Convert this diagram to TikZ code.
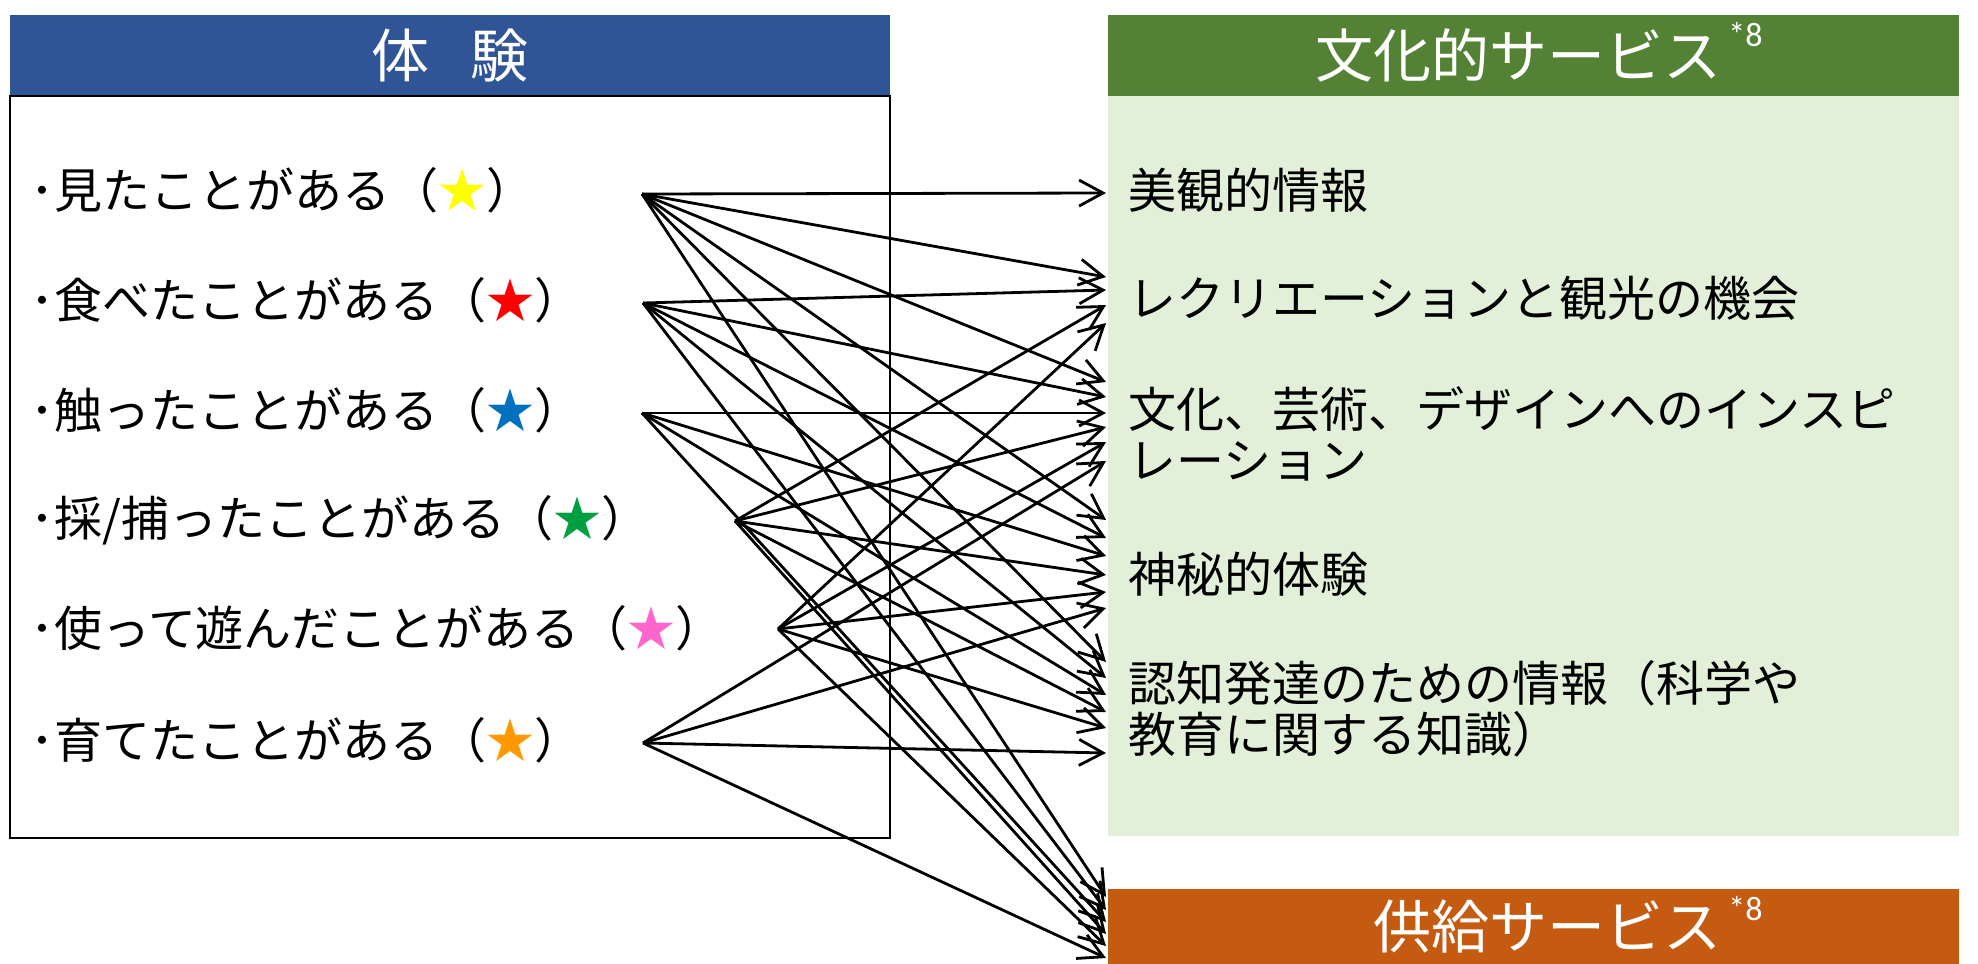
\documentclass[tikz,border=0pt]{standalone}
\usepackage{fontspec}
\setmainfont{Noto Sans CJK JP}
\newfontfamily\notefont{Carlito}
\usepackage{tikz}
\usetikzlibrary{arrows.meta}

\definecolor{expblue}{HTML}{2F5597}
\definecolor{culgreen}{HTML}{548235}
\definecolor{culpanel}{HTML}{E2F0D9}
\definecolor{suporange}{HTML}{C55A11}
\definecolor{staryellow}{HTML}{FFFF00}
\definecolor{starred}{HTML}{FF0000}
\definecolor{starblue}{HTML}{0070C0}
\definecolor{stargreen}{HTML}{00A040}
\definecolor{starpink}{HTML}{FF66CC}
\definecolor{starorange}{HTML}{FF9900}

\begin{document}
\begin{tikzpicture}[x=0.5pt,y=0.5pt,yscale=-1,
    item/.style={anchor=west,inner sep=0pt,font=\fontsize{24pt}{25.5pt}\selectfont},
    svc/.style={anchor=west,inner sep=0pt,align=left,font=\fontsize{24pt}{25.5pt}\selectfont},
    head/.style={text=white,inner sep=0pt,font=\fontsize{29pt}{30pt}\selectfont},
    note/.style={text=white,inner sep=0pt,anchor=north west,font=\notefont\fontsize{17pt}{18pt}\selectfont},
    link/.style={-{Straight Barb[length=12pt,width=13pt,line width=1.4pt]},line width=1.4pt}]
  \useasboundingbox (0,0) rectangle (1978,964);

  %Shape: Rectangle (experience header and box)
  \fill[expblue] (10,15) rectangle (890,96);
  \draw[line width=1.1pt,fill=white] (10,96) rectangle (890,838);
  %Shape: Rectangle (cultural services)
  \fill[culgreen] (1108,15) rectangle (1959,96);
  \fill[culpanel] (1108,96) rectangle (1959,836);
  %Shape: Rectangle (provisioning services)
  \fill[suporange] (1108,889) rectangle (1959,964);

  % Text Node
  \node[head] (hexp) at (450,55) {体\hspace{0.7em}験};
  % Text Node
  \node[head,anchor=east] (hcul) at (1722,55) {文化的サービス};
  \node[note] (ncul) at (1728,22) {*8};
  % Text Node
  \node[head,anchor=east] (hsup) at (1722,927) {供給サービス};
  \node[note] (nsup) at (1728,896) {*8};

  % Text Node (experiences)
  \node[item] (e1) at (30,190) {･見たことがある（\textcolor{staryellow}{★}）};
  \node[item] (e2) at (30,300) {･食べたことがある（\textcolor{starred}{★}）};
  \node[item] (e3) at (30,410) {･触ったことがある（\textcolor{starblue}{★}）};
  \node[item] (e4) at (30,520) {･採/捕ったことがある（\textcolor{stargreen}{★}）};
  \node[item] (e5) at (30,628) {･使って遊んだことがある（\textcolor{starpink}{★}）};
  \node[item] (e6) at (30,740) {･育てたことがある（\textcolor{starorange}{★}）};

  % Text Node (services)
  \node[svc] (v1) at (1128,190) {美観的情報};
  \node[svc] (v2) at (1128,298) {レクリエーションと観光の機会};
  \node[svc] (v3) at (1128,434) {文化、芸術、デザインへのインスピ\\レーション};
  \node[svc] (v4) at (1128,574) {神秘的体験};
  \node[svc] (v5) at (1128,709) {認知発達のための情報（科学や\\教育に関する知識）};

  %arrow start points
  \coordinate (s1) at (642,194);
  \coordinate (s2) at (643,303);
  \coordinate (s3) at (642,413);
  \coordinate (s4) at (735,521);
  \coordinate (s5) at (778,629);
  \coordinate (s6) at (643,743);

  %arrow tips
  \coordinate (aes) at (1106,193);
  \coordinate (rec1) at (1106,277);
  \coordinate (rec2) at (1106,290);
  \coordinate (rec4) at (1106,305);
  \coordinate (rec5) at (1106,323);
  \coordinate (ins1) at (1106,382);
  \coordinate (ins2) at (1106,397);
  \coordinate (ins3) at (1106,413);
  \coordinate (ins4) at (1106,427);
  \coordinate (ins5) at (1106,442);
  \coordinate (ins6) at (1106,461);
  \coordinate (mys1) at (1106,520);
  \coordinate (mys2) at (1106,538);
  \coordinate (mys3) at (1106,556);
  \coordinate (mys4) at (1106,575);
  \coordinate (mys5) at (1106,592);
  \coordinate (mys6) at (1106,608);
  \coordinate (cog1) at (1106,662);
  \coordinate (cog2) at (1106,678);
  \coordinate (cog3) at (1106,695);
  \coordinate (cog4) at (1106,712);
  \coordinate (cog5) at (1106,728);
  \coordinate (cog6) at (1106,753);
  \coordinate (sup1) at (1106,897);
  \coordinate (sup2) at (1106,910);
  \coordinate (sup3) at (1106,922);
  \coordinate (sup4) at (1106,934);
  \coordinate (sup5) at (1106,946);
  \coordinate (sup6) at (1106,958);

  %Straight Lines
  \draw[link] (s1) -- (aes);
  \draw[link] (s1) -- (rec1);
  \draw[link] (s1) -- (ins1);
  \draw[link] (s1) -- (mys1);
  \draw[link] (s1) -- (cog1);
  \draw[link] (s1) -- (sup1);

  \draw[link] (s2) -- (rec2);
  \draw[link] (s2) -- (ins2);
  \draw[link] (s2) -- (mys2);
  \draw[link] (s2) -- (cog2);
  \draw[link] (s2) -- (sup2);

  \draw[link] (s3) -- (ins3);
  \draw[link] (s3) -- (mys3);
  \draw[link] (s3) -- (cog3);
  \draw[link] (s3) -- (sup3);

  \draw[link] (s4) -- (rec4);
  \draw[link] (s4) -- (ins4);
  \draw[link] (s4) -- (mys4);
  \draw[link] (s4) -- (cog4);
  \draw[link] (s4) -- (sup4);

  \draw[link] (s5) -- (rec5);
  \draw[link] (s5) -- (ins5);
  \draw[link] (s5) -- (mys5);
  \draw[link] (s5) -- (cog5);
  \draw[link] (s5) -- (sup5);

  \draw[link] (s6) -- (ins6);
  \draw[link] (s6) -- (mys6);
  \draw[link] (s6) -- (cog6);
  \draw[link] (s6) -- (sup6);
\end{tikzpicture}
\end{document}
